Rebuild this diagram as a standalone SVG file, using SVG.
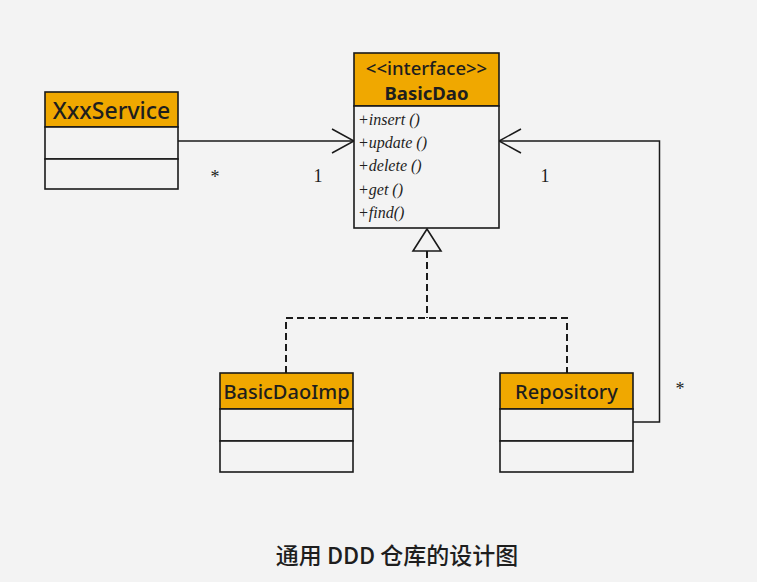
<svg xmlns="http://www.w3.org/2000/svg" width="757" height="582" viewBox="0 0 757 582">
<defs>
<style>
.bg{fill:#f3f3f3}
.hdr{fill:#f0a800;stroke:#1a1a1a;stroke-width:1.6}
.body{fill:#f3f3f3;stroke:#1a1a1a;stroke-width:1.6}
.ht{font-family:"Noto Sans","Open Sans",sans-serif;font-weight:500;fill:#1e1e1e;text-anchor:middle}
.b{font-weight:bold}
.m{font-family:"Liberation Serif",serif;font-style:italic;font-size:16px;fill:#1e1e1e}
.lbl{font-family:"Liberation Serif",serif;font-size:18px;fill:#1e1e1e;text-anchor:middle}
.ln{fill:none;stroke:#1a1a1a;stroke-width:1.5}
.dash{fill:none;stroke:#1a1a1a;stroke-width:2;stroke-dasharray:7 4}
</style>
</defs>
<rect class="bg" x="0" y="0" width="757" height="582"/>
<g id="connectors">
<path class="ln" d="M178,141 H354"/>
<path class="ln" d="M332,129 L354,141 L332,153"/>
<path class="ln" d="M633,422 H659.5 V141 H499"/>
<path class="ln" d="M521,129 L499,141 L521,153"/>
<path class="dash" d="M427,251 V318"/>
<path class="dash" d="M286,373 V318 H567 V373"/>
<polygon points="427,229 413,251 441,251" fill="#f3f3f3" stroke="#1a1a1a" stroke-width="1.6"/>
<text class="lbl" x="215" y="183">*</text>
<text class="lbl" x="318" y="182">1</text>
<text class="lbl" x="545" y="182">1</text>
<text class="lbl" x="680" y="395">*</text>
</g>
<g id="XxxService">
<rect class="hdr" x="45" y="92" width="133" height="35"/>
<rect class="body" x="45" y="127" width="133" height="32"/>
<rect class="body" x="45" y="159" width="133" height="30"/>
<text class="ht" x="111.5" y="119" font-size="23">XxxService</text>
</g>
<g id="BasicDao">
<rect class="hdr" x="354" y="53" width="145" height="53"/>
<rect class="body" x="354" y="106" width="145" height="122"/>
<text class="ht" x="426.5" y="75" font-size="18.5">&lt;&lt;interface&gt;&gt;</text>
<text class="ht b" x="426.5" y="100" font-size="18.5">BasicDao</text>
<text class="m" x="358" y="125">+insert ()</text>
<text class="m" x="358" y="148">+update ()</text>
<text class="m" x="358" y="171">+delete ()</text>
<text class="m" x="358" y="195">+get ()</text>
<text class="m" x="358" y="218">+find()</text>
</g>
<g id="BasicDaoImp">
<rect class="hdr" x="220" y="373" width="133" height="36"/>
<rect class="body" x="220" y="409" width="133" height="32"/>
<rect class="body" x="220" y="441" width="133" height="31"/>
<text class="ht" x="286.5" y="399" font-size="20">BasicDaoImp</text>
</g>
<g id="Repository">
<rect class="hdr" x="500" y="373" width="133" height="36"/>
<rect class="body" x="500" y="409" width="133" height="32"/>
<rect class="body" x="500" y="441" width="133" height="31"/>
<text class="ht" x="566.5" y="399" font-size="20">Repository</text>
</g>
<text x="397" y="564" font-family="'Noto Sans CJK SC','Noto Sans',sans-serif" font-size="23" font-weight="500" fill="#1e1e1e" text-anchor="middle">通用 DDD 仓库的设计图</text>
</svg>
